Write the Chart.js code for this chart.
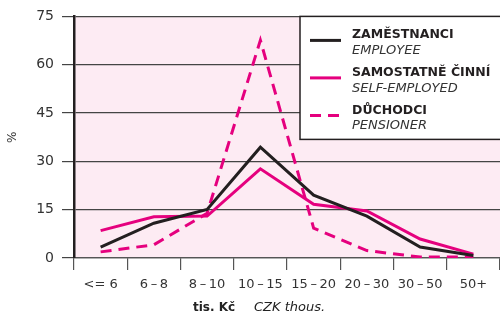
<!DOCTYPE html>
<html>
<head>
<meta charset="utf-8">
<script src="https://cdn.jsdelivr.net/npm/chart.js@4"></script>
<style>
  html, body { margin: 0; padding: 0; background: #fff; overflow: hidden; }
  #wrap { width: 500px; height: 313px; }
</style>
</head>
<body>
<div id="wrap"><canvas id="income-chart"></canvas></div>
<script>
const categories = ['<= 6', '6\u2009\u2013\u20098', '8\u2009\u2013\u200910', '10\u2009\u2013\u200915',
  '15\u2009\u2013\u200920', '20\u2009\u2013\u200930', '30\u2009\u2013\u200950', '50+'];
const employee = [3.4, 10.8, 15.1, 34.4, 19.5, 13.0, 3.4, 0.8];
const selfEmployed = [8.5, 12.8, 13.0, 27.7, 16.7, 14.6, 5.9, 1.2];
const pensioner = [1.9, 4.1, 13.9, 67.6, 9.3, 2.3, 0.3, 0.3];
const yTicks = [0, 15, 30, 45, 60, 75];
const namesCz = ['ZAMĚSTNANCI', 'SAMOSTATNĚ ČINNÍ', 'DŮCHODCI'];
const namesEn = ['EMPLOYEE', 'SELF-EMPLOYED', 'PENSIONER'];

const PINK = '#e5007e';
const BLACK = '#231f20';
const FONT = "'DejaVu Sans', sans-serif";

const plotBackground = {
  id: 'plotBackground',
  beforeDraw(chart) {
    const { ctx, chartArea: a } = chart;
    ctx.save();
    ctx.fillStyle = '#fdebf3';
    ctx.fillRect(a.left, a.top, a.right - a.left, a.bottom - a.top);
    ctx.restore();
  }
};

// two-line legend box (Czech bold + English italic)
const boxLegend = {
  id: 'boxLegend',
  afterDraw(chart) {
    const { ctx, chartArea: a } = chart;
    const x0 = 300, y0 = a.top;
    ctx.save();
    ctx.fillStyle = '#fff';
    ctx.fillRect(x0, y0, 210, 123);
    ctx.strokeStyle = BLACK;
    ctx.lineWidth = 1.5;
    ctx.strokeRect(x0, y0, 210, 123);
    chart.data.datasets.forEach((ds, i) => {
      const yl = y0 + 24 + i * 37.5;
      ctx.beginPath();
      ctx.strokeStyle = ds.borderColor;
      ctx.lineWidth = ds.borderWidth;
      ctx.setLineDash(ds.borderDash || []);
      ctx.moveTo(310, yl);
      ctx.lineTo(341, yl);
      ctx.stroke();
      ctx.setLineDash([]);
      ctx.fillStyle = BLACK;
      ctx.textAlign = 'left';
      ctx.textBaseline = 'alphabetic';
      ctx.font = "bold 12.5px " + FONT;
      ctx.fillText(namesCz[i], 352, y0 + 22 + i * 37.7);
      ctx.fillStyle = '#333';
      ctx.font = "oblique 13px " + FONT;
      ctx.fillText(namesEn[i], 352, y0 + 38 + i * 37.5);
    });
    // x axis title: bold Czech + italic English
    ctx.fillStyle = '#222';
    ctx.textAlign = 'left';
    ctx.font = "bold 12px " + FONT;
    ctx.fillText('tis. Kč', 193, 311);
    ctx.font = "oblique 13px " + FONT;
    ctx.fillText('CZK thous.', 254, 311);
    ctx.restore();
  }
};

new Chart(document.getElementById('income-chart'), {
  type: 'line',
  data: {
    labels: categories,
    datasets: [
      { label: namesCz[0], data: employee, borderColor: BLACK, borderWidth: 3 },
      { label: namesCz[1], data: selfEmployed, borderColor: PINK, borderWidth: 3 },
      { label: namesCz[2], data: pensioner, borderColor: PINK, borderWidth: 3, borderDash: [11, 7] }
    ]
  },
  options: {
    responsive: true,
    maintainAspectRatio: false,
    animation: false,
    layout: { padding: { top: 15, right: 0, left: 0, bottom: 0 } },
    elements: {
      line: { tension: 0, fill: false, borderCapStyle: 'butt', borderJoinStyle: 'miter' },
      point: { radius: 0, hoverRadius: 0 }
    },
    plugins: {
      legend: { display: false },
      tooltip: { enabled: false }
    },
    scales: {
      x: {
        offset: true,
        grid: { offset: true, drawOnChartArea: false, drawTicks: true, tickLength: 12, color: '#555', lineWidth: 1.2 },
        border: { display: true, color: '#555', width: 1.2 },
        ticks: { color: '#333', font: { family: FONT, size: 13 }, padding: 7, maxRotation: 0, autoSkip: false },
        afterFit(scale) { scale.height = 55; }
      },
      y: {
        min: 0,
        max: 75,
        afterBuildTicks(scale) { scale.ticks = yTicks.map(v => ({ value: v })); },
        grid: { color: '#444', lineWidth: 1.2, tickLength: 12 },
        border: { display: true, color: BLACK, width: 2.5 },
        ticks: { color: '#333', font: { family: FONT, size: 14 }, padding: 8 },
        title: { display: true, text: '%', color: '#333', font: { family: FONT, size: 12 }, padding: { top: 6, bottom: 0 } },
        afterFit(scale) { scale.width = 74; }
      }
    }
  },
  plugins: [plotBackground, boxLegend]
});
</script>
</body>
</html>
